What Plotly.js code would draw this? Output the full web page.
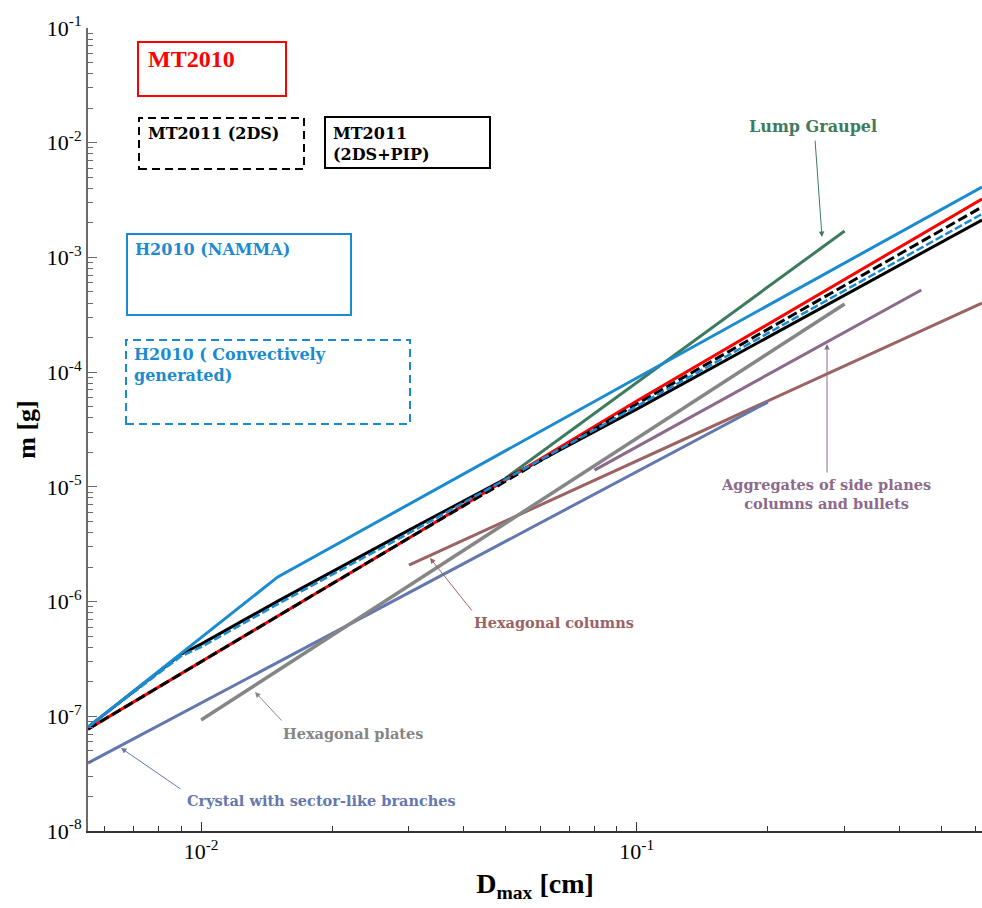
<!DOCTYPE html>
<html><head><meta charset="utf-8">
<script src="https://cdn.plot.ly/plotly-3.0.1.min.js"></script>
<style>html,body{margin:0;padding:0;background:#fff}#chart{width:982px;height:908px}</style>
</head><body><div id="chart"></div>
<script>
// ---- data (Dmax in cm, mass in g) ----
const h2010NammaD = [0.0055, 0.01, 0.015, 0.1, 0.62];
const h2010NammaM = [8.05e-8, 4.81e-7, 1.64e-6, 8.89e-5, 4.11e-3];

const h2010ConvD = [0.0055, 0.009, 0.01, 0.015, 0.03, 0.1, 0.62];
const h2010ConvM = [8.05e-8, 3.35e-7, 4.01e-7, 9.51e-7, 3.95e-6, 5.06e-5, 2.39e-3];

const mt2010D = [0.0055, 0.01, 0.03, 0.1, 0.62];
const mt2010M = [7.73e-8, 2.97e-7, 3.58e-6, 5.60e-5, 3.23e-3];

const mt2011D = [0.0055, 0.01, 0.03, 0.1, 0.62];
const mt2011M = [7.73e-8, 2.97e-7, 3.58e-6, 5.27e-5, 2.75e-3];

const mt2011PipD = [0.0055, 0.009, 0.01, 0.015, 0.03, 0.1, 0.62];
const mt2011PipM = [8.05e-8, 3.48e-7, 4.26e-7, 1.01e-6, 4.20e-6, 4.76e-5, 2.12e-3];

const graupelD = [0.05, 0.3];
const graupelM = [1.19e-5, 1.70e-3];

const hexPlatesD = [0.01, 0.3];
const hexPlatesM = [9.27e-8, 3.93e-4];

const sectorD = [0.0055, 0.2];
const sectorM = [3.91e-8, 5.48e-5];

const hexColumnsD = [0.03, 0.62];
const hexColumnsM = [2.08e-6, 4.00e-4];

const aggregatesD = [0.08, 0.45];
const aggregatesM = [1.40e-5, 5.20e-4];

const xTickVals = [0.01, 0.1];
const xTickText = ['10<sup>-2</sup>', '10<sup>-1</sup>'];
const yTickVals = [1e-8, 1e-7, 1e-6, 1e-5, 1e-4, 1e-3, 1e-2, 1e-1];
const yTickText = ['10<sup>-8</sup>', '10<sup>-7</sup>', '10<sup>-6</sup>', '10<sup>-5</sup>',
                   '10<sup>-4</sup>', '10<sup>-3</sup>', '10<sup>-2</sup>', '10<sup>-1</sup>'];

// ---- colours ----
const BLUE = '#1b8bd1', RED = '#ff0000', GREEN = '#3e7b5e', GRAY = '#868686',
      SLATE = '#6478b0', BROWN = '#9b6363', PURPLE = '#8c6a8c';

// ---- geometry helpers (page pixel -> paper) ----
const W = 982, H = 908, ML = 88, MR = 0, MT = 28, MB = 77;
const PW = W - ML - MR, PH = H - MT - MB;
const px = x => (x - ML) / PW;
const py = y => (H - MB - y) / PH;

function minorTicks(lo, hi) {
  const out = [];
  for (let k = lo; k < hi; k++) for (let m = 2; m <= 9; m++) out.push(m * Math.pow(10, k));
  return out;
}

function line(x, y, color, width, dash) {
  return {type: 'scatter', mode: 'lines', x: x, y: y, hoverinfo: 'skip',
          line: {color: color, width: width, dash: dash || 'solid'}};
}

const traces = [
  line(hexColumnsD, hexColumnsM, BROWN, 3),
  line(sectorD, sectorM, SLATE, 3),
  line(hexPlatesD, hexPlatesM, GRAY, 3.5),
  line(aggregatesD, aggregatesM, PURPLE, 3),
  line(graupelD, graupelM, GREEN, 3),
  line(mt2011PipD, mt2011PipM, 'black', 3),
  line(mt2010D, mt2010M, RED, 3),
  line(mt2011D, mt2011M, 'black', 3, '10px,4px'),
  line(h2010ConvD, h2010ConvM, BLUE, 2.5, '8px,3px'),
  line(h2010NammaD, h2010NammaM, BLUE, 3)
];

function rect(x0, y0, x1, y1, color, dash) {
  return {type: 'rect', xref: 'paper', yref: 'paper', x0: px(x0), x1: px(x1), y0: py(y1), y1: py(y0),
          line: {color: color, width: 2, dash: dash || 'solid'}, fillcolor: 'rgba(0,0,0,0)'};
}
const shapes = [
  rect(138, 42, 286, 96, RED),
  rect(139, 118, 304, 169, 'black', '8px,5px'),
  rect(325, 117, 490, 168, 'black'),
  rect(127, 234, 351, 315, BLUE),
  rect(126, 340, 410, 424, BLUE, '8px,5px')
];

const SERIF = 'DejaVu Serif';
function label(text, x, y, color, size, anchor, family) {
  return {xref: 'paper', yref: 'paper', x: px(x), y: py(y), text: '<b>' + text + '</b>',
          showarrow: false, xanchor: anchor || 'center', yanchor: 'middle', align: anchor === 'left' ? 'left' : 'center',
          font: {family: family || SERIF, size: size, color: color}};
}
function arrow(tailX, tailY, tipX, tipY, color) {
  return {xref: 'paper', yref: 'paper', x: px(tipX), y: py(tipY), ax: tailX - tipX, ay: tailY - tipY,
          text: '', showarrow: true, arrowhead: 2, arrowsize: 1.1, arrowwidth: 1, arrowcolor: color};
}

const annotations = [
  label('MT2010', 146, 59, RED, 24, 'left', 'Liberation Serif'),
  label('MT2011 (2DS)', 146, 134, 'black', 16, 'left'),
  label('MT2011<br>(2DS+PIP)', 331, 144, 'black', 16, 'left'),
  label('H2010 (NAMMA)', 133, 249, BLUE, 16, 'left'),
  label('H2010 ( Convectively<br>generated)', 132, 365, BLUE, 16, 'left'),
  label('Lump Graupel', 813, 126, GREEN, 16),
  arrow(815, 139, 822, 237, GREEN),
  label('Aggregates of side planes<br>columns and bullets', 826, 494, PURPLE, 14.5),
  arrow(827, 474, 827, 344, PURPLE),
  label('Hexagonal columns', 554, 622, BROWN, 14.5),
  arrow(473, 612, 430, 558, BROWN),
  label('Hexagonal plates', 353, 733, GRAY, 14.5),
  arrow(283, 722, 255, 692, GRAY),
  label('Crystal with sector-like branches', 321, 800, SLATE, 14.5),
  arrow(182, 790, 121, 748, SLATE)
];

const layout = {
  width: W, height: H,
  margin: {l: ML, r: MR, t: MT, b: MB, pad: 0},
  paper_bgcolor: 'white', plot_bgcolor: 'white',
  showlegend: false,
  xaxis: {
    type: 'log', range: [Math.log10(0.0055), -0.2075], autorange: false,
    showline: true, linecolor: '#333', linewidth: 1.5, mirror: false,
    showgrid: false, zeroline: false,
    ticks: 'inside', ticklen: 9, tickwidth: 1.2, tickcolor: '#333',
    tickmode: 'array', tickvals: xTickVals, ticktext: xTickText,
    tickfont: {family: 'Liberation Serif', size: 22, color: 'black'},
    minor: {tickmode: 'array', tickvals: minorTicks(-3, 0), ticks: 'inside', ticklen: 5, tickwidth: 1, tickcolor: '#333', showgrid: false},
    title: {text: '<b>D<sub>max</sub> [cm]</b>', font: {family: 'Liberation Serif', size: 28, color: 'black'}, standoff: 10},
    automargin: false
  },
  yaxis: {
    type: 'log', range: [-8, -1], autorange: false,
    showline: true, linecolor: '#6a6a6a', linewidth: 2, mirror: false,
    showgrid: false, zeroline: false,
    ticks: 'inside', ticklen: 9, tickwidth: 1.2, tickcolor: '#6a6a6a',
    tickmode: 'array', tickvals: yTickVals, ticktext: yTickText,
    tickfont: {family: 'Liberation Serif', size: 22, color: 'black'},
    minor: {tickmode: 'array', tickvals: minorTicks(-8, -1), ticks: 'inside', ticklen: 5, tickwidth: 1, tickcolor: '#6a6a6a', showgrid: false},
    title: {text: '<b>m [g]</b>', font: {family: 'Liberation Serif', size: 26, color: 'black'}, standoff: 4},
    automargin: false
  },
  shapes: shapes,
  annotations: annotations
};

Plotly.newPlot('chart', traces, layout, {displayModeBar: false, staticPlot: true});
</script>
</body></html>
